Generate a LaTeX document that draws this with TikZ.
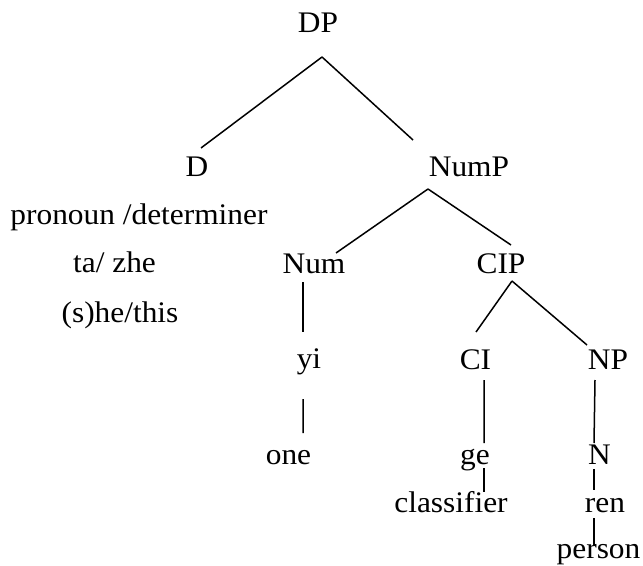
\documentclass[tikz,border=0pt]{standalone}
\usepackage{fontspec}
\setmainfont{Liberation Serif}[FakeStretch=1.05]
\usetikzlibrary{calc}
\begin{document}
\begin{tikzpicture}[x=1bp,y=-1bp,
  lab/.style={anchor=base,inner sep=0pt,font=\fontsize{30}{35}\selectfont},
  edge/.style={line width=1.5bp}]
\useasboundingbox (0,0) rectangle (643,566);
\node[lab] (DP) at (318,33) {DP};
\node[lab] (D) at (197,177) {D};
\node[lab] (NumP) at (469,177) {NumP};
\node[lab] (pron) at (139,224) {pronoun /determiner};
\node[lab] (ta) at (114.5,272) {ta/ zhe};
\node[lab] (she) at (120,322) {(s)he/this};
\node[lab] (Num) at (314,273) {Num};
\node[lab] (CIP) at (501,273) {CIP};
\node[lab] (yi) at (309,368) {yi};
\node[lab] (CI) at (475.5,369) {CI};
\node[lab] (NP) at (608,369) {NP};
\node[lab] (one) at (288.5,464) {one};
\node[lab] (ge) at (475,464) {ge};
\node[lab] (N) at (599.5,464) {N};
\node[lab] (cl) at (451,512) {classifier};
\node[lab] (ren) at (605,512) {ren};
\node[lab] (person) at (598.5,558) {person};
\draw[edge] ($(DP.base)+(4,24)$) -- ($(D.base)+(4,-29)$);
\draw[edge] ($(DP.base)+(4,24)$) -- ($(NumP.base)+(-56,-37)$);
\draw[edge] ($(NumP.base)+(-41,12)$) -- ($(Num.base)+(22,-20)$);
\draw[edge] ($(NumP.base)+(-41,12)$) -- ($(CIP.base)+(10,-28)$);
\draw[edge] ($(Num.base)+(-11,9)$) -- ($(yi.base)+(-6,-36)$);
\draw[edge] ($(yi.base)+(-6,31)$) -- ($(one.base)+(14.5,-31)$);
\draw[edge] ($(CIP.base)+(11,8)$) -- ($(CI.base)+(0.5,-37)$);
\draw[edge] ($(CIP.base)+(11,8)$) -- ($(NP.base)+(-21,-24)$);
\draw[edge] ($(CI.base)+(8.5,11)$) -- ($(ge.base)+(9,-21)$);
\draw[edge] ($(ge.base)+(9,4)$) -- ($(cl.base)+(33,-20)$);
\draw[edge] ($(NP.base)+(-13,11)$) -- ($(N.base)+(-5.5,-21)$);
\draw[edge] ($(N.base)+(-5.5,5)$) -- ($(ren.base)+(-11,-22)$);
\draw[edge] ($(ren.base)+(-11,6)$) -- ($(person.base)+(-4.5,-13)$);
\end{tikzpicture}
\end{document}
